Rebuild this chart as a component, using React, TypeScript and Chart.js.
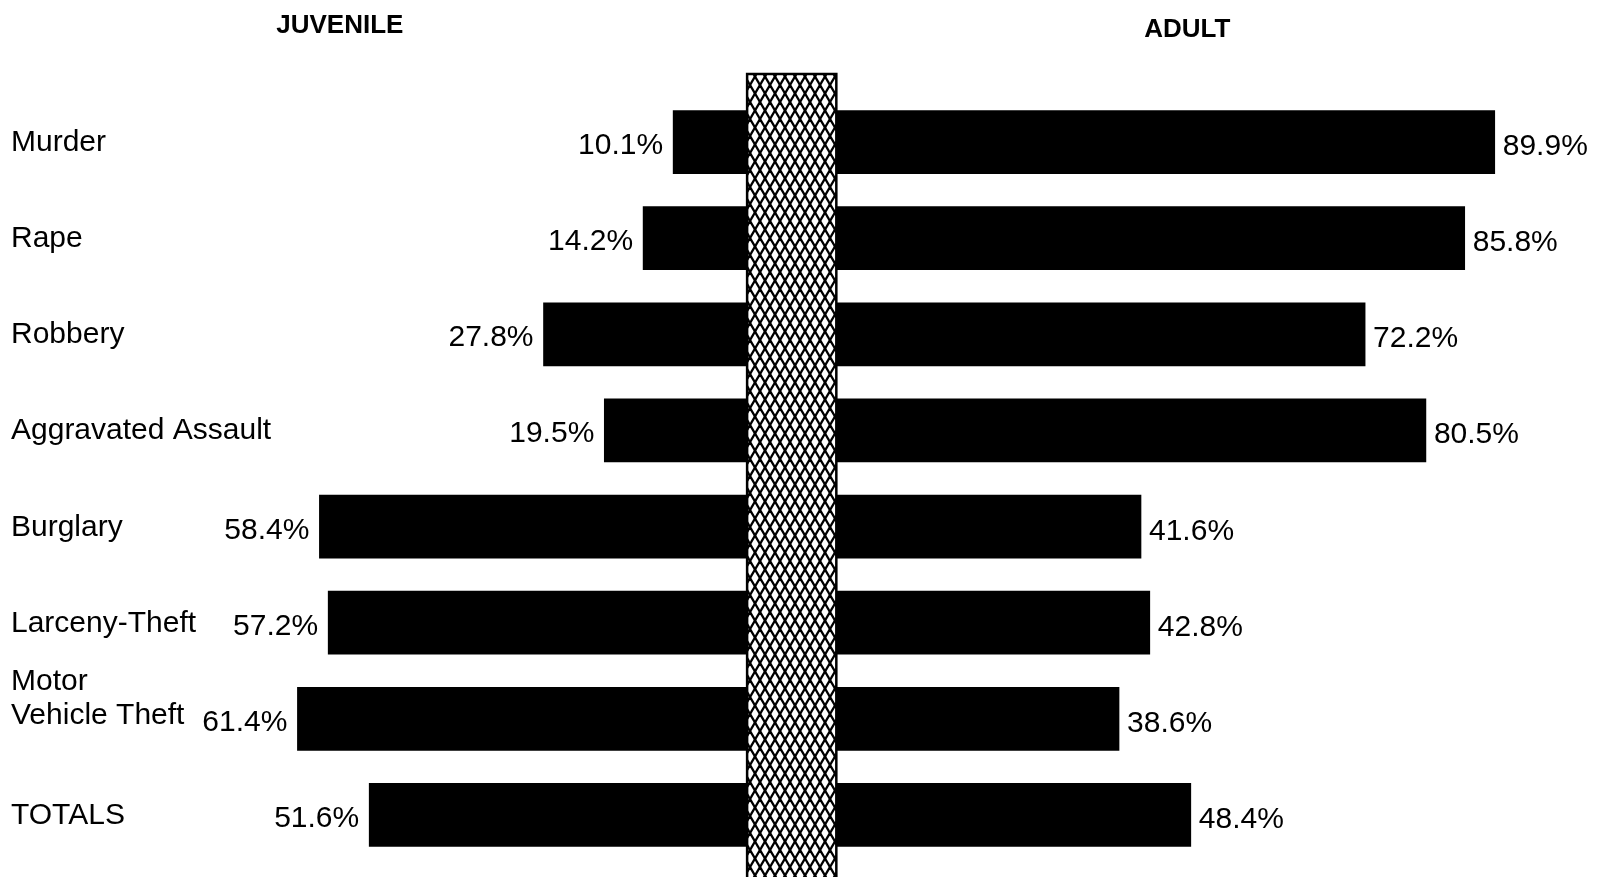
import React, { useEffect, useRef } from "react";
import { Chart, registerables } from "chart.js";

Chart.register(...registerables);

// ---- data ----
const categories = [
  "Murder",
  "Rape",
  "Robbery",
  "Aggravated Assault",
  "Burglary",
  "Larceny-Theft",
  "Motor Vehicle Theft",
  "TOTALS",
];
const categoryLabelLines = [
  ["Murder"],
  ["Rape"],
  ["Robbery"],
  ["Aggravated Assault"],
  ["Burglary"],
  ["Larceny-Theft"],
  ["Motor", "Vehicle Theft"],
  ["TOTALS"],
];
const juvenile = [10.1, 14.2, 27.8, 19.5, 58.4, 57.2, 61.4, 51.6];
const adult = [89.9, 85.8, 72.2, 80.5, 41.6, 42.8, 38.6, 48.4];
const juvenileLabels = ["10.1%", "14.2%", "27.8%", "19.5%", "58.4%", "57.2%", "61.4%", "51.6%"];
const adultLabels = ["89.9%", "85.8%", "72.2%", "80.5%", "41.6%", "42.8%", "38.6%", "48.4%"];
const groupTitles = ["JUVENILE", "ADULT"];

// ---- layout (value units of the x scale) ----
const HALF = 6.09; // half width of the central hatched column
const X_MIN = -108.1;
const X_MAX = 110.77;
const COLUMN_TOP = 74;
const FONT = '"Liberation Sans", Arial, sans-serif';

function makePattern(ctx: CanvasRenderingContext2D) {
  const w = 10;
  const h = 17;
  const c = document.createElement("canvas");
  c.width = w;
  c.height = h;
  const p = c.getContext("2d")!;
  p.fillStyle = "#fff";
  p.fillRect(0, 0, w, h);
  p.strokeStyle = "#000";
  p.lineWidth = 2.3;
  for (let k = -1; k <= 1; k++) {
    p.beginPath();
    p.moveTo(k * w - w, -h);
    p.lineTo(k * w + 2 * w, 2 * h);
    p.stroke();
    p.beginPath();
    p.moveTo(k * w + 2 * w, -h);
    p.lineTo(k * w - w, 2 * h);
    p.stroke();
  }
  return ctx.createPattern(c, "repeat");
}

export default function App() {
  const ref = useRef<HTMLCanvasElement | null>(null);

  useEffect(() => {
    const canvas = ref.current!;
    const ctx0 = canvas.getContext("2d")!;
    const pattern = makePattern(ctx0);

    const overlay = {
      id: "overlay",
      beforeDraw(chart: any) {
        const ctx = chart.ctx;
        ctx.save();
        ctx.fillStyle = "#fff";
        ctx.fillRect(0, 0, chart.width, chart.height);
        ctx.restore();
      },
      afterDatasetsDraw(chart: any) {
        const ctx: CanvasRenderingContext2D = chart.ctx;
        const xs = chart.scales.x;
        const x1 = xs.getPixelForValue(-HALF);
        const x2 = xs.getPixelForValue(HALF);
        ctx.save();
        // central hatched column
        ctx.fillStyle = "#fff";
        ctx.fillRect(x1, COLUMN_TOP, x2 - x1, chart.height - COLUMN_TOP);
        if (pattern) {
          ctx.fillStyle = pattern;
          ctx.fillRect(x1, COLUMN_TOP, x2 - x1, chart.height - COLUMN_TOP);
        }
        ctx.strokeStyle = "#000";
        ctx.lineWidth = 2.5;
        ctx.strokeRect(x1, COLUMN_TOP, x2 - x1, chart.height - COLUMN_TOP + 10);

        // value labels
        ctx.fillStyle = "#000";
        ctx.font = `30px ${FONT}`;
        ctx.textBaseline = "alphabetic";
        const mJ = chart.getDatasetMeta(0);
        const mA = chart.getDatasetMeta(1);
        mJ.data.forEach((el: any, i: number) => {
          const left = Math.min(el.x, el.base);
          ctx.textAlign = "right";
          ctx.fillText(juvenileLabels[i], left - 10, el.y + 12);
        });
        mA.data.forEach((el: any, i: number) => {
          const right = Math.max(el.x, el.base);
          ctx.textAlign = "left";
          ctx.fillText(adultLabels[i], right + 8, el.y + 13);
        });

        // category labels
        ctx.textAlign = "left";
        mJ.data.forEach((el: any, i: number) => {
          const lines = categoryLabelLines[i];
          const n = lines.length;
          lines.forEach((line, j) => {
            const y = el.y + 9 - (n - 1 - j) * 34 - (n > 1 ? 4 : 0);
            ctx.fillText(line, 11, y);
          });
        });

        // group titles
        ctx.font = `bold 26px ${FONT}`;
        ctx.textAlign = "center";
        ctx.fillText(groupTitles[0], xs.getPixelForValue(-61.7), 33);
        ctx.fillText(groupTitles[1], xs.getPixelForValue(54.0), 37);
        ctx.restore();
      },
    };

    const chart = new Chart(canvas, {
      type: "bar",
      data: {
        labels: categories,
        datasets: [
          {
            label: "Juvenile",
            data: juvenile.map((v) => [-HALF - v, -HALF]) as any,
            backgroundColor: "#000",
            borderWidth: 0,
            barThickness: 63,
            grouped: false,
          } as any,
          {
            label: "Adult",
            data: adult.map((v) => [HALF, HALF + v]) as any,
            backgroundColor: "#000",
            borderWidth: 0,
            barThickness: 63,
            grouped: false,
          } as any,
        ],
      },
      options: {
        indexAxis: "y",
        animation: false,
        responsive: false,
        devicePixelRatio: 1,
        layout: { padding: { top: 94, bottom: 14, left: 0, right: 0 } },
        plugins: {
          legend: { display: false },
          tooltip: { enabled: false },
          title: { display: false },
        },
        scales: {
          x: { type: "linear", min: X_MIN, max: X_MAX, display: false },
          y: { display: false, offset: true },
        },
      },
      plugins: [overlay],
    });
    return () => chart.destroy();
  }, []);

  return (
    <div style={{ position: "absolute", left: 0, top: 0, width: 1603, height: 877 }}>
      <canvas ref={ref} width={1603} height={877} style={{ display: "block" }} />
    </div>
  );
}
